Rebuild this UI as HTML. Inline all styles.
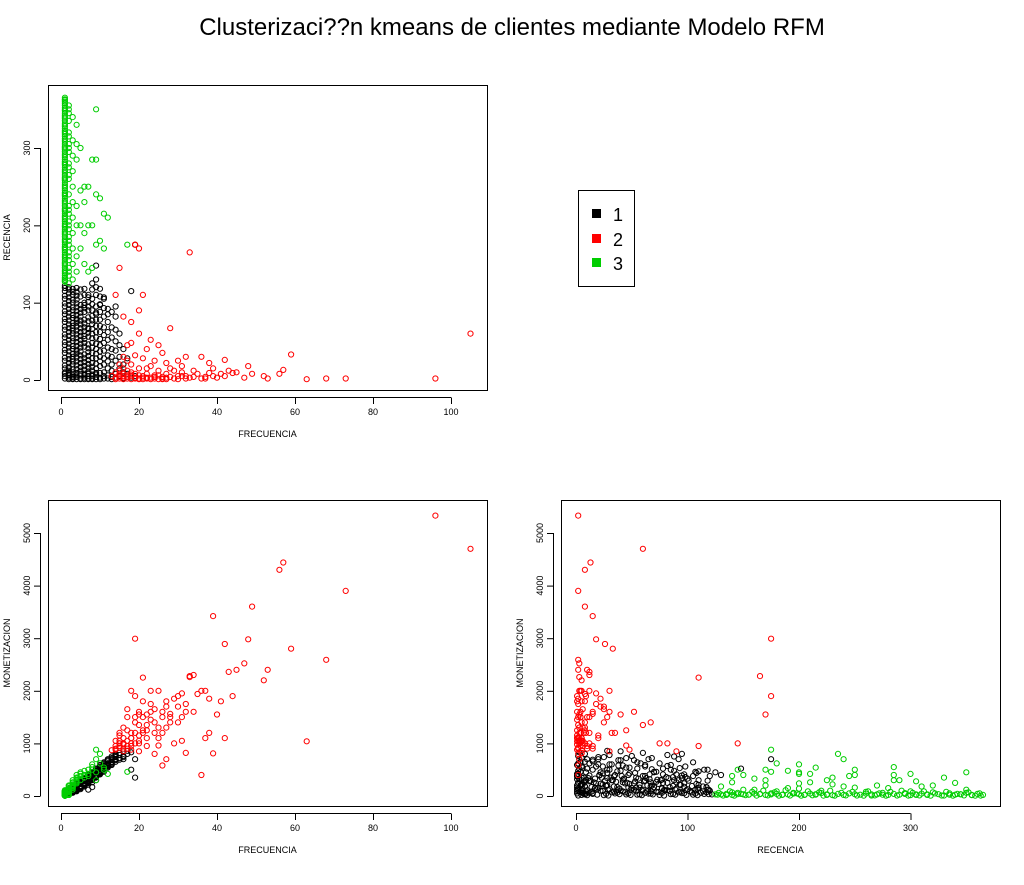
<!DOCTYPE html>
<html><head><meta charset="utf-8"><style>
body{margin:0;background:#fff;width:1024px;height:880px;overflow:hidden}
svg{font-family:"Liberation Sans",Arial,sans-serif}
</style></head><body>
<svg id="c" width="1024" height="880">
<text x="512" y="35" text-anchor="middle" font-size="24">Clusterizaci??n kmeans de clientes mediante Modelo RFM</text>
<g>
<rect x="578.5" y="190.5" width="56" height="96" fill="#fff" stroke="#000"/>
<rect x="592" y="209" width="9" height="9" fill="#000"/>
<text x="613" y="221" font-size="18">1</text>
<rect x="592" y="234" width="9" height="9" fill="#ff0000"/>
<text x="613" y="246" font-size="18">2</text>
<rect x="592" y="258" width="9" height="9" fill="#00cd00"/>
<text x="613" y="270" font-size="18">3</text>
</g>
</svg>
<script>
// customers: [frecuencia, recencia, monetizacion]
const cluster1 = [[1,5,20],[1,15,40],[1,25,15],[1,35,50],[1,45,30],[1,55,25],[1,65,45],[1,75,20],[1,85,35],[1,95,55],[1,105,25],[1,115,40],[1,122,30],
[2,3,80],[2,12,60],[2,22,100],[2,32,70],[2,42,90],[2,52,120],[2,62,60],[2,72,80],[2,82,110],[2,92,70],[2,102,90],[2,112,60],[2,120,100],
[3,2,140],[3,10,110],[3,20,160],[3,30,130],[3,40,100],[3,50,150],[3,60,120],[3,70,170],[3,80,110],[3,90,140],[3,100,130],[3,110,160],[3,118,120],
[4,4,200],[4,14,170],[4,24,220],[4,34,180],[4,44,240],[4,54,160],[4,64,200],[4,74,230],[4,84,170],[4,94,210],[4,104,190],[4,114,180],
[5,2,250],[5,12,280],[5,22,230],[5,32,300],[5,42,260],[5,52,240],[5,62,290],[5,72,270],[5,82,250],[5,92,300],[5,108,230],
[6,3,320],[6,13,290],[6,23,350],[6,33,300],[6,43,330],[6,53,280],[6,63,340],[6,73,310],[6,88,300],[6,100,330],[6,118,290],
[7,1,370],[7,11,340],[7,21,400],[7,31,350],[7,41,380],[7,56,330],[7,66,410],[7,81,360],[7,95,340],[7,110,300],
[8,2,420],[8,12,390],[8,22,450],[8,35,400],[8,48,430],[8,60,380],[8,72,460],[8,90,410],[8,105,380],[8,125,450],
[9,4,460],[9,15,500],[9,28,440],[9,40,480],[9,55,520],[9,70,450],[9,85,500],[9,110,470],[9,130,400],[9,148,520],
[10,3,520],[10,18,560],[10,30,500],[10,45,540],[10,62,590],[10,78,520],[10,98,560],[10,118,500],
[11,5,560],[11,20,600],[11,38,580],[11,58,620],[11,82,570],[11,105,640],
[12,2,620],[12,15,660],[12,32,600],[12,52,680],[12,75,620],[12,92,700],
[13,4,650],[13,20,700],[13,40,680],[13,68,720],[13,88,750],
[14,3,700],[14,25,740],[14,50,760],[14,82,780],[14,95,800],
[15,5,720],[15,30,780],[15,60,820],[16,2,760],[16,40,850],[17,8,800],[17,28,860],[18,3,830],[18,115,500],[19,5,350],[19,175,700],
[2,7,40],[3,6,60],[4,9,90],[5,6,130],[6,8,180],[7,5,220],[8,7,260],[9,9,300],[2,17,150],[3,27,200],[4,37,110],[5,47,160],[6,57,210],[7,67,260],[8,77,310],[9,87,360],[10,97,410],[11,107,460],[2,57,30],[3,67,90],[4,77,140],[5,87,190],[6,97,240],[7,107,120],[8,117,170],
[1,2,10],[1,8,30],[1,10,15],[1,19,25],[1,29,10],[1,39,35],[1,49,20],[1,59,15],[1,69,30],[1,79,10],[1,89,25],[1,99,20],[1,109,15],[1,119,35],
[2,1,50],[2,6,70],[2,9,45],[2,15,55],[2,27,40],[2,37,65],[2,47,50],[2,67,45],[2,77,60],[2,87,40],[2,97,55],[2,107,45],[2,117,70],
[3,1,90],[3,4,75],[3,14,85],[3,24,95],[3,34,80],[3,44,70],[3,54,90],[3,64,85],[3,74,75],[3,84,95],[3,94,80],[3,104,70],[3,114,90],
[4,1,120],[4,6,100],[4,19,130],[4,29,110],[4,39,140],[4,49,120],[4,59,105],[4,69,135],[4,79,115],[4,89,125],[4,99,110],[4,109,140],[4,119,120],
[5,1,160],[5,8,180],[5,17,150],[5,27,190],[5,37,170],[5,57,160],[5,67,185],[5,77,150],[5,97,175],[5,117,165],
[6,1,200],[6,6,220],[6,18,240],[6,28,210],[6,48,230],[6,68,200],[6,78,250],[6,93,220],[6,110,210],
[7,2,250],[7,8,280],[7,16,260],[7,26,290],[7,36,270],[7,46,250],[7,61,280],[7,76,300],[7,90,260],[7,101,290],
[8,1,320],[8,5,300],[8,17,330],[8,28,340],[8,42,310],[8,54,350],[8,66,320],[8,83,340],[8,98,360],
[9,1,380],[9,7,350],[9,21,390],[9,34,370],[9,47,400],[9,62,380],[9,78,410],[9,95,390],[9,120,380],
[10,1,420],[10,9,450],[10,24,430],[10,37,470],[10,53,440],[10,70,460],[10,88,480],[10,108,440],
[11,2,480],[11,10,520],[11,28,500],[11,48,540],[11,68,510],[11,93,530],[12,6,540],[12,24,560],[12,42,580],[12,62,560],[12,85,590],
[13,1,590],[13,12,620],[13,30,600],[13,55,640],[14,8,650],[14,38,680],[14,65,700],[15,15,690],[15,45,720],[16,20,740],[16,10,700]];
const cluster2 = [[105,60,4700],[96,2,5330],[73,2,3900],[68,2,2590],[63,1,1040],[59,33,2800],[57,13,4440],[56,8,4300],[53,2,2400],[52,5,2200],[49,8,3600],[48,18,2980],[47,3,2520],[45,10,2400],[43,12,2360],[42,26,2890],[42,5,1100],[41,8,1800],[40,3,1550],[39,15,3420],[39,5,810],[38,22,1850],[38,9,1200],[37,4,2000],[36,30,2000],[35,8,1940],[34,12,2300],[33,165,2280],[33,3,2260],[32,30,1600],[32,5,820],[31,18,1950],[31,10,1500],[30,5,1400],[30,25,1700],[29,2,1850],[28,15,1560],[28,67,1400],[27,8,1300],[27,22,1700],[26,4,1500],[26,35,1200],[25,12,2000],[25,45,960],[24,6,1650],[24,25,1400],[23,3,2000],[23,18,1750],[22,8,1250],[22,40,1550],[21,110,2250],[21,5,1800],[21,28,1500],[20,15,1600],[20,2,1050],[20,60,1350],[19,175,1900],[19,8,1400],[19,32,1200],[18,5,2000],[18,20,1100],[18,75,1000],[17,2,900],[17,45,1250],[17,12,1500],[16,8,1000],[16,30,850],[16,82,1000],[15,4,950],[15,145,1000],[15,20,1150],[14,10,900],[14,110,950],[13,5,870],[36,2,400],[26,2,580],[31,5,1050],[29,12,1000],[34,4,1600],[37,2,1100],[44,9,1900],[23,52,1600],[20,90,850],[18,48,880],[27,3,700],[24,2,800],[22,15,950],[21,3,1200],[19,2,1500],[17,25,1650],[16,3,1300],[15,12,1200],[19,175,2990],[20,170,1550],[14,3,1050],[15,8,1000],[16,15,900],[18,10,950],[20,6,1000],[22,3,1100],[25,6,1300],[28,4,1500],
[14,1,880],[15,2,920],[16,1,980],[17,4,1050],[18,1,1100],[19,3,1000],[20,1,1150],[21,1,1250],[22,2,1350],[23,1,1450],[24,4,1200],[25,1,1100],[26,1,1600],[27,1,1800],[30,1,1900],[32,2,1750],[18,7,1200],[16,5,1100],[17,6,950],[15,6,1050]];
const cluster3 = [[1,365,20],[1,360,40],[1,355,15],[1,350,60],[1,345,30],[1,340,25],[1,335,50],[1,330,10],[1,325,35],[1,320,70],[1,315,20],[1,310,45],[1,305,30],[1,300,15],[1,295,55],[1,290,25],[1,285,40],[1,280,20],[1,275,60],[1,270,30],[1,265,10],[1,260,45],[1,255,25],[1,250,35],[1,245,50],[1,240,20],[1,235,40],[1,230,15],[1,225,30],[1,220,55],[1,215,25],[1,210,45],[1,205,20],[1,200,35],[1,195,60],[1,190,30],[1,185,25],[1,180,40],[1,175,50],[1,170,20],[1,165,35],[1,160,45],[1,155,25],[1,150,30],[1,145,60],[1,140,20],[1,135,40],[1,130,30],[1,127,25],
[2,350,120],[2,320,200],[2,300,90],[2,280,150],[2,260,80],[2,240,180],[2,220,100],[2,200,140],[2,180,90],[2,160,120],[2,140,70],[3,340,250],[3,310,180],[3,290,300],[3,270,200],[3,250,160],[3,230,220],[3,210,260],[3,190,150],[3,170,200],[3,150,120],[3,130,180],[4,330,350],[4,305,280],[4,285,400],[4,225,300],[4,200,240],[4,160,330],[4,140,260],[5,300,420],[5,245,380],[5,200,450],[5,170,300],[6,250,400],[6,230,350],[6,190,480],[6,150,400],[7,250,500],[7,200,420],[7,140,380],[8,285,550],[8,200,600],[8,145,500],[9,350,450],[9,240,700],[9,175,880],[10,180,620],[10,235,800],[11,215,540],[11,170,500],[12,210,420],[17,175,460],[9,285,300],
[1,128,60],[1,138,90],[1,148,40],[1,158,80],[1,168,100],[1,178,70],[1,188,110],[1,198,50],[1,208,90],[1,218,70],[1,228,100],[1,238,60],[1,248,80],[1,262,90],[1,272,50],[1,282,80],[1,292,100],[1,302,60],[1,312,90],[1,322,50],[1,332,80],[1,342,40],[1,352,70],[1,362,50],
[1,132,10],[1,142,5],[1,152,15],[1,162,8],[1,172,12],[1,182,5],[1,192,10],[1,202,6],[1,212,14],[1,222,8],[1,232,5],[1,242,12],[1,252,9],[1,258,6],[1,268,12],[1,278,5],[1,288,10],[1,298,7],[1,308,12],[1,318,5],[1,328,9],[1,338,6],[1,348,11],[1,358,5],[1,363,8],
[2,125,30],[2,135,20],[2,145,35],[2,155,25],[2,165,40],[2,175,30],[2,185,20],[2,195,45],[2,205,25],[2,215,35],[2,225,20],[2,265,30],[2,275,25],[2,295,40],[2,305,20],[2,315,30],[2,335,25],[2,345,35],[2,355,20]];
const xTicks1 = [0,20,40,60,80,100];
const yTicksR = [0,100,200,300];
const yTicksM = [0,1000,2000,3000,4000,5000];
const xTicksR = [0,100,200,300];
const colors = ['#000000','#ff0000','#00cd00'];
const NS='http://www.w3.org/2000/svg';
const svg=document.getElementById('c');
function mk(tag,attrs,parent){const e=document.createElementNS(NS,tag);for(const k in attrs)e.setAttribute(k,attrs[k]);(parent||svg).appendChild(e);return e;}
function panel(name,box,xs,ys,xt,yt,xlab,ylab,xi,yi){
  const g=mk('g',{});
  
  
  const xf=v=>xs[0]+(v-xs[2])*xs[1], yf=v=>ys[0]-(v-ys[2])*ys[1];
  [cluster1,cluster2,cluster3].forEach((cl,ci)=>{
    cl.forEach(d=>{
      const c=mk('circle',{cx:xf(d[xi]).toFixed(1),cy:yf(d[yi]).toFixed(1),r:2.6,fill:'none',stroke:colors[ci],'stroke-width':1},g);
      
      
    });
  });
  const b=mk('rect',{x:box[0]+.5,y:box[1]+.5,width:box[2]-box[0],height:box[3]-box[1],fill:'none',stroke:'#000'},g);
  
  
  const ax=mk('g',{},g);
  
  
  mk('line',{x1:xf(xt[0]),x2:xf(xt[xt.length-1]),y1:box[3]+7.5,y2:box[3]+7.5,stroke:'#000'},ax);
  xt.forEach(t=>{mk('line',{x1:xf(t)+.5,x2:xf(t)+.5,y1:box[3]+7.5,y2:box[3]+14,stroke:'#000'},ax);
    const tx=mk('text',{x:xf(t),y:box[3]+25,'font-size':9,'text-anchor':'middle'},ax);tx.textContent=t;});
  const xl=mk('text',{x:(box[0]+box[2])/2,y:box[3]+47,'font-size':9,'text-anchor':'middle'},g);xl.textContent=xlab;
  
  
  const ay=mk('g',{},g);
  
  
  mk('line',{x1:box[0]-7.5,x2:box[0]-7.5,y1:yf(yt[0]),y2:yf(yt[yt.length-1]),stroke:'#000'},ay);
  yt.forEach(t=>{mk('line',{x1:box[0]-14,x2:box[0]-7.5,y1:yf(t)+.5,y2:yf(t)+.5,stroke:'#000'},ay);
    const tx=mk('text',{x:0,y:0,'font-size':9,'text-anchor':'middle',transform:`translate(${box[0]-18},${yf(t)}) rotate(-90)`},ay);tx.textContent=t;});
  const yl=mk('text',{x:0,y:0,'font-size':9,'text-anchor':'middle',transform:`translate(${box[0]-38},${(box[1]+box[3])/2}) rotate(-90)`},g);yl.textContent=ylab;
  
  
}
panel('plot-frecuencia-recencia',[48,85,487,390],[61,3.9,0],[380,0.7733,0],xTicks1,yTicksR,'FRECUENCIA','RECENCIA',0,1);
panel('plot-frecuencia-monetizacion',[48,500,487,806],[61,3.9,0],[796,0.0526,0],xTicks1,yTicksM,'FRECUENCIA','MONETIZACION',0,2);
panel('plot-recencia-monetizacion',[561,500,1000,806],[576,1.115,0],[796,0.0526,0],xTicksR,yTicksM,'RECENCIA','MONETIZACION',1,2);
</script>
</body></html>
